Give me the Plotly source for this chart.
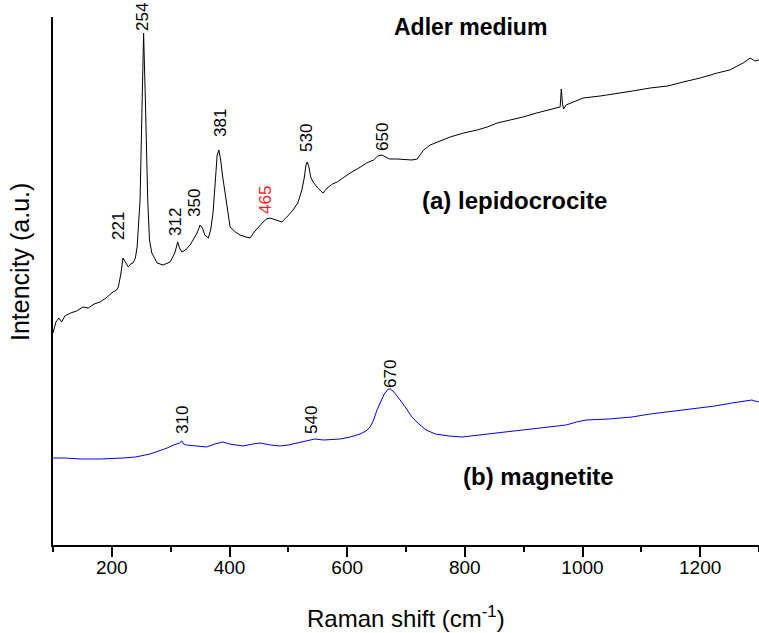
import plotly.graph_objects as go

# ---- data: Raman shift (cm-1) and intensity (a.u.) ----
lepido_shift = [
    100, 105, 110, 115, 120, 130, 140, 151, 160, 170,
    180, 190, 202, 208, 211, 215, 219, 223, 228, 232,
    236, 240, 243, 248, 252, 254, 257, 261, 264, 268,
    277, 287, 299, 307, 312, 315, 319, 325, 333, 340,
    345, 350, 354, 358, 364, 368, 372, 376, 379, 382,
    385, 388, 391, 396, 401, 410, 418, 428, 435, 442,
    449, 457, 463, 469, 479, 489, 499, 508, 516, 523,
    527, 530, 532, 535, 538, 542, 550, 559, 566, 575,
    583, 595, 605, 620, 633, 645, 652, 659, 665, 672,
    685, 700, 710, 719, 730, 741, 758, 775, 798, 821,
    838, 855, 877, 899, 922, 945, 955, 962, 964, 966,
    968, 972, 985, 1001, 1030, 1059, 1085, 1115, 1145, 1171,
    1200, 1229, 1250, 1273, 1285, 1293, 1300,
]
lepido_int = [
    212, 223, 227, 223, 229, 232, 234, 238, 237, 241,
    243, 247, 253, 255, 258, 270, 287, 283, 278, 281,
    282, 287, 298, 345, 445, 512, 445, 345, 305, 292,
    282, 280, 283, 292, 303, 297, 293, 295, 300, 307,
    312, 320, 317, 310, 307, 315, 332, 365, 390, 395,
    385, 370, 358, 335, 318, 313, 310, 308, 307, 313,
    318, 323, 326, 327, 325, 323, 329, 335, 342, 355,
    367, 380, 383, 378, 368, 363, 357, 352, 357, 361,
    363, 368, 372, 377, 382, 385, 389, 390, 388, 386,
    386, 385, 385, 386, 395, 400, 404, 408, 412, 415,
    418, 422, 425, 428, 432, 435, 437, 438, 456, 441,
    436, 440, 443, 447, 449, 452, 454, 457, 459, 463,
    467, 472, 475, 482, 487, 484, 485,
]
magnet_shift = [
    100, 120, 146, 180, 219, 240, 265, 280, 294, 305,
    315, 319, 322, 327, 345, 361, 375, 389, 400, 423,
    440, 452, 470, 486, 500, 514, 530, 545, 560, 588,
    605, 622, 632, 639, 645, 650, 656, 663, 670, 673,
    678, 684, 690, 700, 710, 722, 734, 750, 773, 795,
    825, 858, 885, 914, 945, 972, 990, 1006, 1045, 1084,
    1115, 1142, 1170, 1198, 1225, 1254, 1275, 1288, 1293, 1300,
]
magnet_int = [
    87, 87, 86, 86, 87, 88, 91, 94, 97, 100,
    102, 104, 101, 100, 99, 98, 101, 103, 101, 99,
    101, 102, 100, 99, 100, 102, 104, 106, 105, 106,
    108, 111, 114, 118, 125, 134, 142, 151, 156, 156,
    154, 150, 145, 137, 128, 121, 115, 111, 109, 108,
    110, 112, 114, 116, 118, 120, 123, 125, 126, 128,
    131, 133, 135, 137, 139, 142, 144, 145, 144, 143,
]
lepido_peaks = ["221", "254", "312", "350", "381", "465", "530", "650"]
magnet_peaks = ["310", "540", "670"]
x_ticks = [200, 400, 600, 800, 1000, 1200]

FONT = "Liberation Sans, Arial, Helvetica, sans-serif"

fig = go.Figure()
fig.add_trace(go.Scatter(x=lepido_shift, y=lepido_int, mode="lines",
                         line=dict(color="black", width=1), showlegend=False))
fig.add_trace(go.Scatter(x=magnet_shift, y=magnet_int, mode="lines",
                         line=dict(color="#0000ff", width=1), showlegend=False))

# label placement (x in cm-1, y in a.u.)
lepido_pos = [(210.5, 319), (251.3, 528), (307.4, 323), (339.7, 342),
              (383.9, 422), (460.3, 345), (530, 407), (659.2, 408)]
magnet_pos = [(319.3, 125), (538.5, 125), (672.8, 171)]

anns = []
for txt, (px, py) in zip(lepido_peaks, lepido_pos):
    anns.append(dict(x=px, y=py, xref="x", yref="y", text=txt, showarrow=False,
                     textangle=-90, xanchor="center", yanchor="middle",
                     font=dict(family=FONT, size=17,
                               color="#ff2020" if txt == "465" else "black")))
for txt, (px, py) in zip(magnet_peaks, magnet_pos):
    anns.append(dict(x=px, y=py, xref="x", yref="y", text=txt, showarrow=False,
                     textangle=-90, xanchor="center", yanchor="middle",
                     font=dict(family=FONT, size=17, color="black")))

anns += [
    dict(x=0.592, y=0.981, xref="paper", yref="paper", text="<b>Adler medium</b>",
         showarrow=False, xanchor="center", yanchor="middle",
         font=dict(family=FONT, size=23, color="black")),
    dict(x=0.654, y=0.653, xref="paper", yref="paper", text="<b>(a) lepidocrocite</b>",
         showarrow=False, xanchor="center", yanchor="middle",
         font=dict(family=FONT, size=24, color="black")),
    dict(x=0.688, y=0.129, xref="paper", yref="paper", text="<b>(b) magnetite</b>",
         showarrow=False, xanchor="center", yanchor="middle",
         font=dict(family=FONT, size=24, color="black")),
    dict(x=0.5, y=-0.136, xref="paper", yref="paper",
         text="Raman shift (cm<sup>-1</sup>)",
         showarrow=False, xanchor="center", yanchor="middle",
         font=dict(family=FONT, size=24, color="black")),
    dict(x=-0.0467, y=0.536, xref="paper", yref="paper", text="Intencity (a.u.)",
         showarrow=False, xanchor="center", yanchor="middle", textangle=-90,
         font=dict(family=FONT, size=25, color="black")),
]

fig.update_layout(
    width=759, height=633,
    margin=dict(l=53, r=0, t=17, b=88),
    paper_bgcolor="white", plot_bgcolor="white",
    annotations=anns,
    xaxis=dict(range=[100, 1300], showline=True, linecolor="black", linewidth=2,
               ticks="outside", ticklen=10, tickwidth=2, tickcolor="black",
               tickvals=x_ticks, showgrid=False, zeroline=False,
               ticklabelstandoff=-6,
               tickfont=dict(family=FONT, size=19, color="black"),
               minor=dict(ticks="outside", ticklen=5, tickwidth=2, tickcolor="black",
                          dtick=100, tick0=100, showgrid=False)),
    yaxis=dict(range=[0, 528], showline=True, linecolor="black", linewidth=2,
               showticklabels=False, ticks="", showgrid=False, zeroline=False),
)

# remove the default page margin so the figure fills the window exactly
fig.write_html(
    "out.html",
    config={"displayModeBar": False},
    post_script="document.body.style.margin='0';document.body.style.overflow='hidden';",
)
